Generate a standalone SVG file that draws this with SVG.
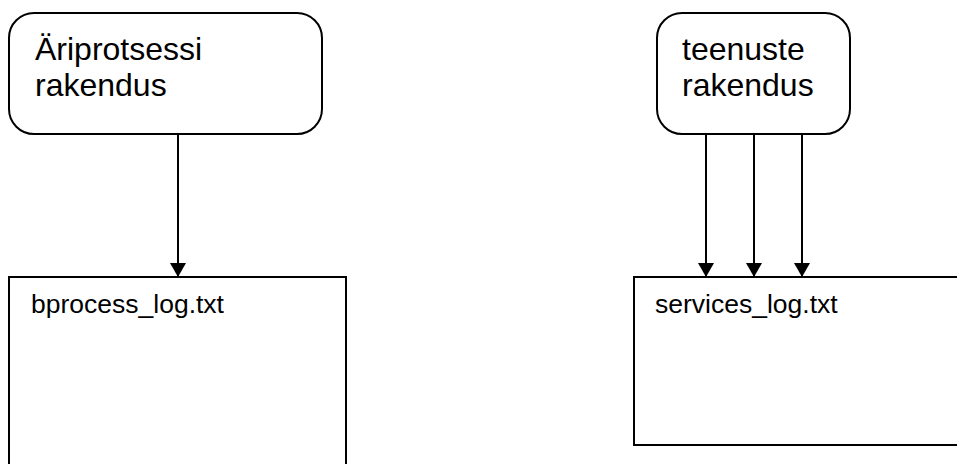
<svg xmlns="http://www.w3.org/2000/svg" width="957" height="464" viewBox="0 0 957 464">
  <style>
    .box { fill: #ffffff; stroke: #000000; stroke-width: 2; }
    .title { font-family: "Liberation Sans", Arial, sans-serif; font-size: 32px; fill: #000000; }
    .file { font-family: "Liberation Sans", Arial, sans-serif; font-size: 26.5px; fill: #000000; }
    .link { stroke: #000000; stroke-width: 2; fill: none; }
  </style>
  <defs>
    <marker id="arrow" viewBox="0 0 14 16" refX="14" refY="8" markerWidth="14" markerHeight="16" markerUnits="userSpaceOnUse" orient="auto">
      <path d="M0,0 L14,8 L0,16 Z" fill="#000000"/>
    </marker>
  </defs>
  <rect width="957" height="464" fill="#ffffff"/>

  <!-- applications -->
  <g id="app-business">
    <rect class="box" x="9" y="13" width="313" height="121" rx="25" ry="25"/>
    <text class="title" x="35" y="60">Äriprotsessi</text>
    <text class="title" x="35" y="96">rakendus</text>
  </g>
  <g id="app-services">
    <rect class="box" x="657" y="13" width="193" height="121" rx="25" ry="25"/>
    <text class="title" x="682" y="60">teenuste</text>
    <text class="title" x="682" y="96">rakendus</text>
  </g>

  <!-- log files -->
  <g id="log-bprocess">
    <rect class="box" x="9" y="277" width="337" height="200"/>
    <text class="file" x="31" y="313">bprocess_log.txt</text>
  </g>
  <g id="log-services">
    <rect class="box" x="634" y="277" width="340" height="168"/>
    <text class="file" x="655" y="313">services_log.txt</text>
  </g>

  <!-- write connectors -->
  <g id="connectors">
    <line class="link" x1="178" y1="134" x2="178" y2="277" marker-end="url(#arrow)"/>
    <line class="link" x1="706" y1="134" x2="706" y2="277" marker-end="url(#arrow)"/>
    <line class="link" x1="754" y1="134" x2="754" y2="277" marker-end="url(#arrow)"/>
    <line class="link" x1="802" y1="134" x2="802" y2="277" marker-end="url(#arrow)"/>
  </g>
</svg>
